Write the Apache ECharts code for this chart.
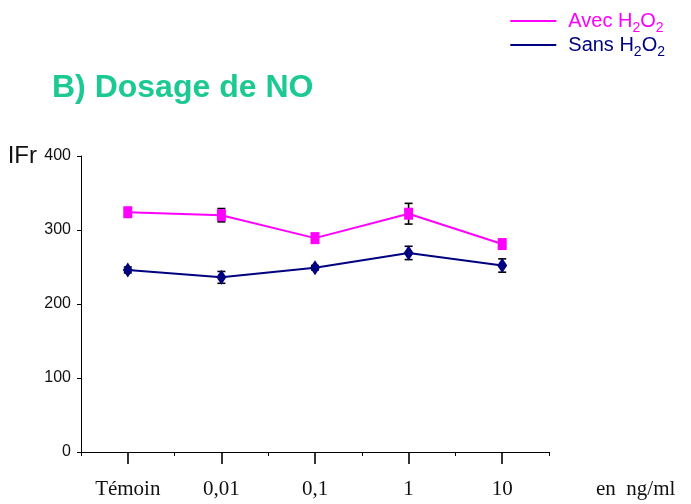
<!DOCTYPE html>
<html>
<head>
<meta charset="utf-8">
<script src="https://cdn.jsdelivr.net/npm/echarts@6/dist/echarts.min.js"></script>
<style>
html,body{margin:0;padding:0;background:#fff;}
#chart{width:691px;height:504px;}
</style>
</head>
<body>
<div id="chart"></div>
<script>
var categories = ['Témoin', '0,01', '0,1', '1', '10'];
var avecValues = [324, 320, 289, 322, 281];
var avecErrors = [4, 9, 4, 14, 3];
var sansValues = [246, 236, 249, 269, 252];
var sansErrors = [4, 8, 3, 9, 9];
var yTicks = [0, 100, 200, 300, 400];

var PINK = '#FF00FF';
var NAVY = '#000080';
var SANS = "'Liberation Sans', Arial, sans-serif";
var SERIF = "'Liberation Serif', 'Times New Roman', serif";

function errorSeries(values, errors) {
  var data = values.map(function (v, i) { return [i, v - errors[i], v + errors[i]]; });
  return {
    type: 'custom',
    silent: true,
    z: 1,
    data: data,
    renderItem: function (params, api) {
      var lo = api.coord([api.value(0), api.value(1)]);
      var hi = api.coord([api.value(0), api.value(2)]);
      var w = 4;
      var st = { stroke: '#000', lineWidth: 1.6 };
      return {
        type: 'group',
        children: [
          { type: 'line', shape: { x1: hi[0], y1: hi[1], x2: lo[0], y2: lo[1] }, style: st },
          { type: 'line', shape: { x1: hi[0] - w, y1: hi[1], x2: hi[0] + w, y2: hi[1] }, style: st },
          { type: 'line', shape: { x1: lo[0] - w, y1: lo[1], x2: lo[0] + w, y2: lo[1] }, style: st }
        ]
      };
    }
  };
}

var chart = echarts.init(document.getElementById('chart'));
chart.setOption({
  backgroundColor: '#fff',
  animation: false,
  title: {
    text: 'B) Dosage de NO',
    left: 47, top: 67,
    textStyle: { color: '#1DC993', fontSize: 32, fontWeight: 'bold', fontFamily: SANS }
  },
  legend: {
    orient: 'vertical',
    right: 21, top: 2,
    itemWidth: 46, itemHeight: 2, itemGap: -4,
    icon: 'rect',
    data: [
      { name: 'Avec H2O2', itemStyle: { color: PINK } },
      { name: 'Sans H2O2', itemStyle: { color: NAVY } }
    ],
    formatter: function (name) {
      var k = name.indexOf('Avec') === 0 ? 'p' : 'n';
      var word = name.split(' ')[0];
      return '{' + k + '|' + word + ' H}{' + k + 's|2}{' + k + '|O}{' + k + 's|2}';
    },
    textStyle: {
      fontFamily: SANS,
      fontSize: 20,
      padding: [0, 0, 0, 7],
      rich: {
        p: { color: PINK, fontSize: 20, fontFamily: SANS, lineHeight: 22 },
        ps: { color: PINK, fontSize: 14, fontFamily: SANS, lineHeight: 22, padding: [14, 0, 0, 0] },
        n: { color: NAVY, fontSize: 20, fontFamily: SANS, lineHeight: 22 },
        ns: { color: NAVY, fontSize: 14, fontFamily: SANS, lineHeight: 22, padding: [14, 0, 0, 0] }
      }
    }
  },
  grid: { left: 81, right: 142, top: 156, bottom: 52, containLabel: false },
  xAxis: [
    {
      type: 'category',
      data: categories,
      boundaryGap: true,
      position: 'bottom',
      name: 'en  ng/ml',
      nameLocation: 'end',
      nameGap: 47,
      nameTextStyle: { color: '#111', fontSize: 21, fontFamily: SERIF, verticalAlign: 'top', align: 'left', padding: [27, 0, 0, 0] },
      axisLine: { lineStyle: { color: '#000', width: 1 } },
      axisTick: { show: true, length: 4, lineStyle: { color: '#000', width: 1 } },
      axisLabel: { color: '#111', fontSize: 21, margin: 27, fontFamily: SERIF },
      splitLine: { show: false }
    },
    {
      type: 'category',
      data: categories,
      boundaryGap: true,
      position: 'bottom',
      offset: 0,
      axisLine: { show: false },
      axisTick: { show: true, alignWithLabel: true, length: 12, lineStyle: { color: '#000', width: 1.6 } },
      axisLabel: { show: false },
      splitLine: { show: false }
    }
  ],
  yAxis: {
    type: 'value',
    min: 0, max: 400, interval: 100,
    name: 'IFr',
    nameLocation: 'end',
    nameGap: 0,
    nameTextStyle: { color: '#111', fontSize: 24, fontFamily: SANS, align: 'right', verticalAlign: 'middle', padding: [0, 44, 6, 0] },
    axisLine: { show: true, lineStyle: { color: '#000', width: 1 } },
    axisTick: { show: true, length: 4, lineStyle: { color: '#000' } },
    axisLabel: {
      color: '#111', fontSize: 16, margin: 10, fontFamily: SANS,
      formatter: function (v) { return yTicks.indexOf(v) >= 0 ? String(v) : ''; }
    },
    splitLine: { show: false }
  },
  series: [
    errorSeries(avecValues, avecErrors),
    errorSeries(sansValues, sansErrors),
    {
      name: 'Avec H2O2',
      type: 'line',
      data: avecValues,
      z: 3,
      symbol: 'rect',
      symbolSize: [9, 12],
      lineStyle: { color: PINK, width: 2 },
      itemStyle: { color: PINK },
      color: PINK
    },
    {
      name: 'Sans H2O2',
      type: 'line',
      data: sansValues,
      z: 3,
      symbol: 'diamond',
      symbolSize: [10, 15],
      lineStyle: { color: NAVY, width: 2 },
      itemStyle: { color: NAVY },
      color: NAVY
    }
  ]
});
</script>
</body>
</html>
